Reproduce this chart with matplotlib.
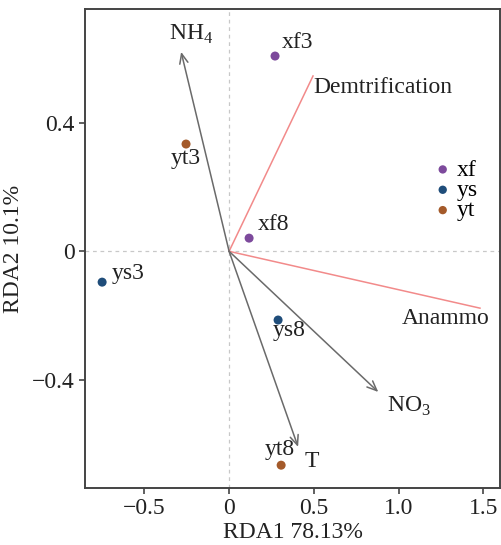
import matplotlib
matplotlib.use("Agg")
import matplotlib.pyplot as plt

plt.rcParams["font.family"] = ["Liberation Serif", "DejaVu Serif"]
plt.rcParams["mathtext.fontset"] = "custom"
plt.rcParams["mathtext.rm"] = "Liberation Serif"

# sample scores
sample_names = ["xf3", "xf8", "ys3", "ys8", "yt3", "yt8"]
sample_groups = ["xf", "xf", "ys", "ys", "yt", "yt"]
sample_x = [0.271, 0.118, -0.749, 0.289, -0.254, 0.307]
sample_y = [0.608, 0.041, -0.096, -0.214, 0.334, -0.666]

# environment arrows
env_names = ["NH$_4$", "NO$_3$", "T"]
env_x = [-0.283, 0.88, 0.407]
env_y = [0.621, -0.438, -0.609]

# response lines
resp_names = ["Demtrification", "Anammo"]
resp_x = [0.495, 1.48]
resp_y = [0.546, -0.177]

groups = ["xf", "ys", "yt"]
group_colors = {"xf": "#7d4a9c", "ys": "#1f4d7a", "yt": "#a45a2a"}

FS = 17

fig = plt.figure(figsize=(5.01, 5.45), dpi=100)
ax = fig.add_axes([0.17, 0.1046, 0.828, 0.878])

ax.axhline(0, color="#c8c8c8", lw=0.9, ls=(0, (3, 3)), zorder=0)
ax.axvline(0, color="#c8c8c8", lw=0.9, ls=(0, (3, 3)), zorder=0)

for x, y in zip(resp_x, resp_y):
    ax.plot([0, x], [0, y], color="#f28a8a", lw=1.1, zorder=1)

for x, y in zip(env_x, env_y):
    ax.annotate("", xy=(x, y), xytext=(0, 0),
                arrowprops=dict(arrowstyle="->,head_length=0.7,head_width=0.3",
                                color="#6a6a6a", lw=1.1, shrinkA=0, shrinkB=0),
                zorder=2)

for name, g, x, y in zip(sample_names, sample_groups, sample_x, sample_y):
    ax.scatter(x, y, s=42, color=group_colors[g], zorder=3, edgecolors="none")

# label offsets (points)
sample_off = {"xf3": (5, 2, "left", "bottom"), "xf8": (6, 2, "left", "bottom"),
              "ys3": (7, -1, "left", "bottom"), "ys8": (-4, 0, "left", "top"),
              "yt3": (0, -3, "center", "top"), "yt8": (-1, 4, "center", "bottom")}
for name, x, y in zip(sample_names, sample_x, sample_y):
    dx, dy, ha, va = sample_off[name]
    ax.annotate(name, (x, y), xytext=(dx, dy), textcoords="offset points",
                ha=ha, va=va, fontsize=FS, color="#222222")

env_off = {"NH$_4$": (7, 4, "center", "bottom"), "NO$_3$": (6, -2, "left", "top"),
           "T": (5, -3, "left", "top")}
for name, x, y in zip(env_names, env_x, env_y):
    dx, dy, ha, va = env_off[name]
    ax.annotate(name, (x, y), xytext=(dx, dy), textcoords="offset points",
                ha=ha, va=va, fontsize=FS, color="#222222")

resp_off = {"Demtrification": (0, -1, "left", "top"), "Anammo": (-56, 0, "left", "top")}
for name, x, y in zip(resp_names, resp_x, resp_y):
    dx, dy, ha, va = resp_off[name]
    ax.annotate(name, (x, y), xytext=(dx, dy), textcoords="offset points",
                ha=ha, va=va, fontsize=FS, color="#222222")

for g in groups:
    ax.scatter([], [], s=36, color=group_colors[g], label=g, edgecolors="none")
ax.legend(loc="upper left", bbox_to_anchor=(0.805, 0.712), frameon=False,
          fontsize=FS, handletextpad=0.1, labelspacing=-0.05, borderpad=0,
          handlelength=1.0)

ax.set_xlim(-0.849, 1.598)
ax.set_ylim(-0.737, 0.753)
ax.set_xticks([-0.5, 0, 0.5, 1.0, 1.5])
ax.set_xticklabels(["\u22120.5", "0", "0.5", "1.0", "1.5"])
ax.set_yticks([-0.4, 0, 0.4])
ax.set_yticklabels(["\u22120.4", "0", "0.4"])
ax.tick_params(labelsize=FS, length=4, width=1.2, color="#444444", labelcolor="#222222")
for s in ax.spines.values():
    s.set_color("#444444")
    s.set_linewidth(1.4)

ax.set_xlabel("RDA1 78.13%", fontsize=FS, color="#222222", labelpad=2)
ax.set_ylabel("RDA2 10.1%", fontsize=FS, color="#222222", labelpad=6)

fig.savefig("out.png", dpi=100)
